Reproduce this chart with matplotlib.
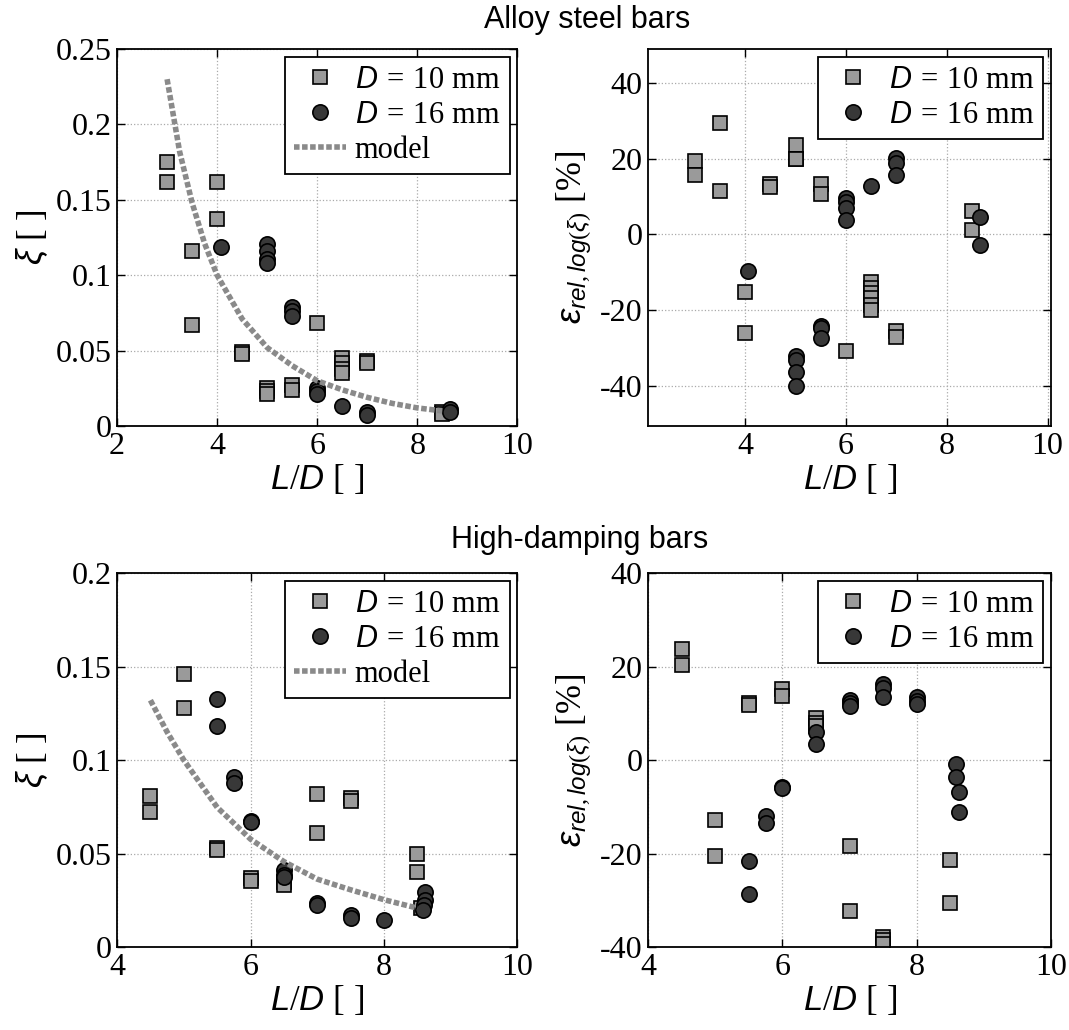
import matplotlib
matplotlib.use("Agg")
import matplotlib.pyplot as plt

plt.rcParams['font.family'] = ['Liberation Serif', 'DejaVu Serif']
plt.rcParams['mathtext.fontset'] = 'custom'
plt.rcParams['mathtext.it'] = 'Liberation Sans:italic'
plt.rcParams['mathtext.rm'] = 'Liberation Serif'
plt.rcParams['mathtext.default'] = 'it'
plt.rcParams['axes.unicode_minus'] = False

# Alloy steel bars - xi
as_x10 = [3, 3, 3.5, 3.5, 4, 4, 4.5, 4.5, 5, 5, 5, 5.5, 5.5, 6, 6.5, 6.5, 6.5, 6.5, 7, 7, 8.5, 8.5]
as_xi10 = [0.175, 0.162, 0.116, 0.067, 0.162, 0.137, 0.049, 0.048, 0.025, 0.023, 0.021, 0.027, 0.024,
           0.068, 0.045, 0.042, 0.038, 0.035, 0.043, 0.042, 0.009, 0.008]
as_x16 = [4.07, 5, 5, 5, 5, 5.5, 5.5, 5.5, 6, 6, 6, 6.5, 7, 7, 8.65, 8.65]
as_xi16 = [0.119, 0.121, 0.116, 0.111, 0.108, 0.079, 0.076, 0.073, 0.025, 0.023, 0.021, 0.0135,
           0.009, 0.007, 0.011, 0.009]
as_model_x = [3, 3.25, 3.5, 3.75, 4, 4.5, 5, 5.5, 6, 6.5, 7, 7.5, 8, 8.5]
as_model_xi = [0.230, 0.182, 0.148, 0.121, 0.100, 0.071, 0.052, 0.040, 0.030, 0.024, 0.019, 0.015, 0.012, 0.010]

# Alloy steel bars - relative error
as_ex10 = [3, 3, 3.5, 3.5, 4, 4, 4.5, 4.5, 5, 5, 5, 5.5, 5.5, 6, 6.5, 6.5, 6.5, 6.5, 6.5, 6.5,
           7, 7, 8.5, 8.5]
as_err10 = [19.5, 15.8, 29.4, 11.6, -15.3, -25.9, 13.4, 12.5, 23.7, 19.9, 19.9, 13.4, 10.7,
            -30.9, -12.6, -14.2, -15.5, -16.8, -18.6, -19.9, -25.6, -27.1, 6.3, 1.2]
as_ex16 = [4.05, 5, 5, 5, 5, 5.5, 5.5, 5.5, 6, 6, 6, 6, 6.5, 7, 7, 7, 8.65, 8.65]
as_err16 = [-9.7, -32.1, -33.1, -36.2, -40.0, -24.1, -24.8, -27.4, 9.6, 8.7, 7.0, 3.9, 12.7,
            20.2, 19.0, 15.8, 4.5, -2.9]

# High-damping bars - xi
hd_x10 = [4.5, 4.5, 5, 5, 5.5, 5.5, 6, 6, 6.5, 6.5, 7, 7, 7.5, 7.5, 8.5, 8.5, 8.55]
hd_xi10 = [0.081, 0.072, 0.146, 0.128, 0.053, 0.052, 0.037, 0.0355, 0.035, 0.033, 0.082, 0.061,
           0.0795, 0.078, 0.050, 0.040, 0.021]
hd_x16 = [5.5, 5.5, 5.75, 5.75, 6, 6, 6.5, 6.5, 6.5, 7, 7, 7.5, 7.5, 8, 8.62, 8.62, 8.6, 8.58]
hd_xi16 = [0.1326, 0.1183, 0.0907, 0.0879, 0.0674, 0.067, 0.041, 0.0386, 0.0374, 0.0235, 0.0226,
           0.0173, 0.0155, 0.0142, 0.0292, 0.0253, 0.0226, 0.020]
hd_model_x = [4.5, 4.75, 5, 5.5, 6, 6.5, 7, 7.5, 8, 8.5]
hd_model_xi = [0.132, 0.115, 0.100, 0.0747, 0.0577, 0.0457, 0.0363, 0.0306, 0.0253, 0.0208]

# High-damping bars - relative error
hd_ex10 = [4.5, 4.5, 5, 5, 5.5, 5.5, 6, 6, 6.5, 6.5, 6.5, 7, 7, 7.5, 7.5, 7.5, 8.5, 8.5]
hd_err10 = [23.7, 20.3, -12.8, -20.6, 12.1, 11.7, 15.2, 13.7, 9.1, 8.0, 7.3, -18.5, -32.3,
            -37.9, -38.6, -39.3, -21.4, -30.6]
hd_ex16 = [5.5, 5.5, 5.75, 5.75, 6, 6, 6.5, 6.5, 7, 7, 7, 7.5, 7.5, 7.5, 8, 8, 8, 8.58, 8.58, 8.63, 8.63]
hd_err16 = [-21.7, -28.6, -11.9, -13.5, -5.7, -6.0, 5.9, 3.4, 12.8, 12.1, 11.6, 16.2, 15.4, 13.5,
            13.4, 12.7, 12.0, -0.85, -3.7, -6.9, -11.2]

LAB10 = r'$D\,=\,10\ \mathrm{mm}$'
LAB16 = r'$D\,=\,16\ \mathrm{mm}$'


def style_axes(ax, xlim, ylim, xticks, yticks):
    ax.set_xlim(xlim)
    ax.set_ylim(ylim)
    ax.set_xticks(xticks)
    ax.set_yticks(yticks)
    ax.set_yticklabels(['%g' % t for t in yticks])
    ax.tick_params(direction='in', top=True, right=True, length=6, width=1, labelsize=23, pad=4)
    ax.grid(True, linestyle=':', color='#aaaaaa', linewidth=0.9)
    for s in ax.spines.values():
        s.set_linewidth(1.3)
    ax.set_xlabel(r'$L/D$ [ ]', fontsize=25, labelpad=2)


def scatter(ax, x10, y10, x16, y16):
    ax.plot(x10, y10, 's', ms=9.5, mfc='#9a9a9a', mec='black', mew=1.2, label=LAB10)
    ax.plot(x16, y16, 'o', ms=11, mfc='#383838', mec='black', mew=1.2, label=LAB16)


def legend(ax):
    lg = ax.legend(loc='upper right', fontsize=22, fancybox=False, framealpha=1, edgecolor='black',
                   borderaxespad=0.25, handlelength=1.7, handletextpad=0.3, borderpad=0.3,
                   labelspacing=0.2)
    lg.get_frame().set_linewidth(1.3)


fig = plt.figure(figsize=(10.69, 10.30), dpi=100)

ax1 = fig.add_axes([0.1095, 0.5864, 0.3745, 0.366])
scatter(ax1, as_x10, as_xi10, as_x16, as_xi16)
ax1.plot(as_model_x, as_model_xi, color='#8a8a8a', lw=4, linestyle=(0, (1, 0.45)), label='model')
style_axes(ax1, (2, 10), (0, 0.25), [2, 4, 6, 8, 10], [0, 0.05, 0.1, 0.15, 0.2, 0.25])
ax1.set_ylabel(r'$\xi$ [ ]', fontsize=25)
legend(ax1)

ax2 = fig.add_axes([0.6062, 0.5864, 0.377, 0.366])
scatter(ax2, as_ex10, as_err10, as_ex16, as_err16)
style_axes(ax2, (2.07, 10.07), (-50.6, 49), [4, 6, 8, 10], [-40, -20, 0, 20, 40])
ax2.set_ylabel(r'$\varepsilon_{rel,log(\xi)}$ [%]', fontsize=25)
legend(ax2)

ax3 = fig.add_axes([0.1095, 0.0806, 0.3745, 0.363])
scatter(ax3, hd_x10, hd_xi10, hd_x16, hd_xi16)
ax3.plot(hd_model_x, hd_model_xi, color='#8a8a8a', lw=4, linestyle=(0, (1, 0.45)), label='model')
style_axes(ax3, (4, 10), (0, 0.2), [4, 6, 8, 10], [0, 0.05, 0.1, 0.15, 0.2])
ax3.set_ylabel(r'$\xi$ [ ]', fontsize=25)
legend(ax3)

ax4 = fig.add_axes([0.6062, 0.0806, 0.377, 0.363])
scatter(ax4, hd_ex10, hd_err10, hd_ex16, hd_err16)
style_axes(ax4, (4, 10), (-40, 40), [4, 6, 8, 10], [-40, -20, 0, 20, 40])
ax4.set_ylabel(r'$\varepsilon_{rel,log(\xi)}$ [%]', fontsize=25)
legend(ax4)

fig.text(0.549, 0.981, 'Alloy steel bars', ha='center', va='center', fontsize=22, family='Liberation Sans')
fig.text(0.542, 0.476, 'High-damping bars', ha='center', va='center', fontsize=22, family='Liberation Sans')

fig.savefig('out.png', dpi=100)
